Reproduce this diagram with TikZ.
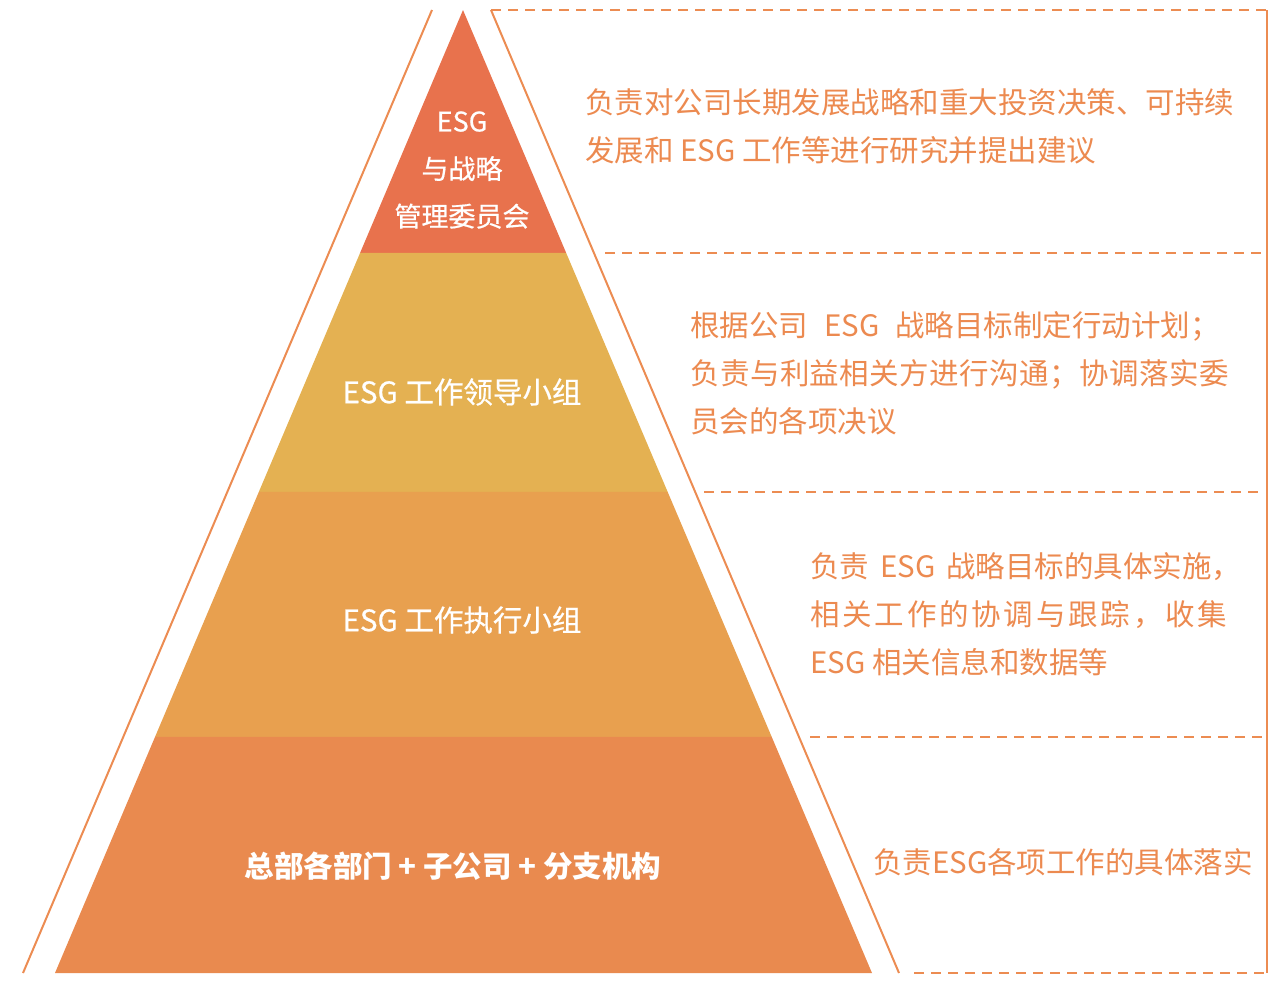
\documentclass[tikz,border=0pt]{standalone}
\usepackage{fontspec}
\usepackage{xcolor}
\usepackage{tikz}
\usetikzlibrary{calc}
\setmainfont{Noto Sans CJK SC}

\definecolor{layerTop}{HTML}{E8724D}
\definecolor{layerTwo}{HTML}{E4B152}
\definecolor{layerThree}{HTML}{E8A04F}
\definecolor{layerBase}{HTML}{E98A4F}
\definecolor{frameLine}{HTML}{EC8C52}
\definecolor{descText}{HTML}{EC8A50}

\newcommand{\gapESG}[1]{\hspace{#1}ESG\hspace{#1}}

\tikzset{
    frame/.style={draw=frameLine, line width=2pt},
    divider/.style={draw=frameLine, line width=2pt, dash pattern=on 10pt off 7pt},
    label/.style={text=white, inner sep=0pt, align=center, font=\addfontfeature{FakeBold=0.6}\fontsize{29.5}{47}\selectfont},
    desc/.style={text=descText, inner sep=0pt, anchor=west, align=left, font=\fontsize{29.5}{48}\selectfont}
}

\begin{document}
\begin{tikzpicture}[x=1pt, y=-1pt]
            \useasboundingbox (0,0) rectangle (1278,993);

            % Pyramid corners
            \coordinate (apex) at (463,10);
            \coordinate (bl) at (55,973);
            \coordinate (br) at (872,973);
            \foreach \t [count=\i] in {0.2523,0.5005,0.7549}
            {
                \coordinate (L\i) at ($(apex)!\t!(bl)$);
                \coordinate (R\i) at ($(apex)!\t!(br)$);
            }

            % Layers
            \fill[layerTop] (apex) -- (L1) -- (R1) -- cycle;
            \fill[layerTwo] (L1) -- (L2) -- (R2) -- (R1) -- cycle;
            \fill[layerThree] (L2) -- (L3) -- (R3) -- (R2) -- cycle;
            \fill[layerBase] (L3) -- (bl) -- (br) -- (R3) -- cycle;

            % Outer lines and frame
            \coordinate (olt) at (432,10);
            \coordinate (olb) at (23,973);
            \coordinate (ort) at (491,10);
            \coordinate (orb) at (899,973);
            \coordinate (fnw) at (491,10);
            \coordinate (fne) at (1267,10);
            \coordinate (fse) at (1267,973);
            \coordinate (fsw) at (914,973);
            \draw[frame] (olt) -- (olb);
            \draw[frame] (ort) -- (orb);
            \draw[frame] (fne) -- (fse);
            \draw[divider] (fnw) -- (fne);
            \draw[divider] (fsw) -- (fse);

            % Dashed dividers between the rows
            \coordinate (d1a) at (605,253);  \coordinate (d1b) at (1265,253);
            \coordinate (d2a) at (704,492);  \coordinate (d2b) at (1265,492);
            \coordinate (d3a) at (810,737);  \coordinate (d3b) at (1265,737);
            \foreach \i in {1,2,3}
            {
                \draw[divider] (d\i a) -- (d\i b);
            }

            % Pyramid labels
            \node[label, font=\addfontfeature{FakeBold=0.6}\fontsize{27}{47.5}\selectfont] (committee) at (462,170) {ESG\\与战略\\管理委员会};
            \node[label] (leader) at (462,392) {ESG 工作领导小组};
            \node[label] (exec) at (462,620) {ESG 工作执行小组};
            \node[label, font=\bfseries\fontsize{29.5}{47}\selectfont] (dept) at (453,866) {总部各部门 + 子公司 + 分支机构};

            % Descriptions
            \node[desc] (desc-1) at (585,126) {负责对公司长期发展战略和重大投资决策、可持续\\发展和 ESG 工作等进行研究并提出建议};
            \node[desc] (desc-2) at (690,373) {根据公司\gapESG{16pt}战略目标制定行动计划；\\{\addfontfeature{LetterSpace=1.5}负责与利益相关方进行沟通；协调落实委}\\员会的各项决议};
            \node[desc] (desc-3) at (810,614) {负责\gapESG{11pt}战略目标的具体实施，\\{\addfontfeature{LetterSpace=9.5}相关工作的协调与跟踪，收集}\\ESG 相关信息和数据等};
            \node[desc] (desc-4) at (873,862) {负责ESG各项工作的具体落实};
\end{tikzpicture}
\end{document}
